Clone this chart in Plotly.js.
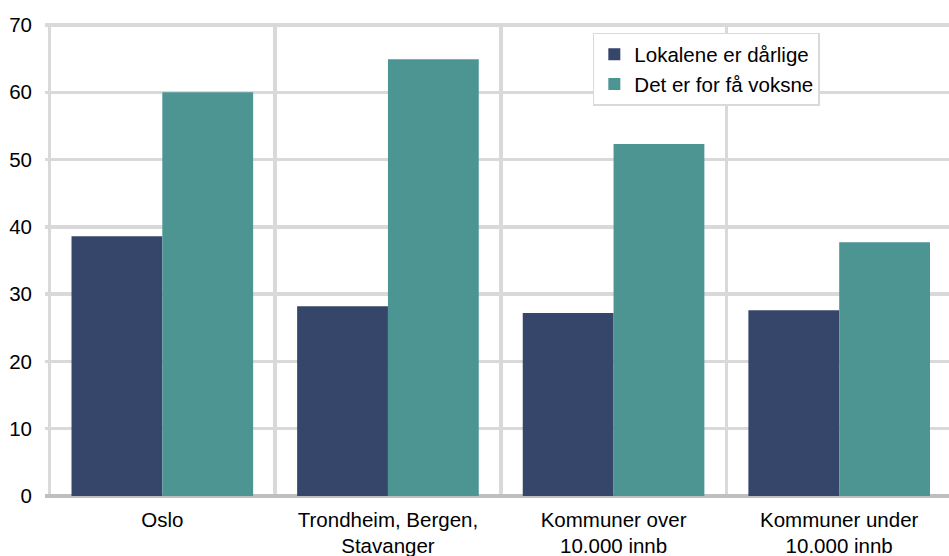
<!DOCTYPE html>
<html><head><meta charset="utf-8">
<script src="https://cdn.plot.ly/plotly-3.0.1.min.js"></script>
<style>html,body{margin:0;padding:0;overflow:hidden;background:#fff}</style>
</head><body>
<div id="chart" style="width:952px;height:556px"></div>
<script>
const categories = ["Oslo", "Trondheim, Bergen,<br>Stavanger", "Kommuner over<br>10.000 innb", "Kommuner under<br>10.000 innb"];
const seriesNames = ["Lokalene er dårlige", "Det er for få voksne"];
const lokaler = [38.6, 28.2, 27.2, 27.6];
const voksne = [60.0, 64.9, 52.3, 37.7];
const yTicks = [0, 10, 20, 30, 40, 50, 60, 70];

const traces = [
  {type: "bar", name: seriesNames[0], x: categories, y: lokaler, marker: {color: "#36466a"}},
  {type: "bar", name: seriesNames[1], x: categories, y: voksne, marker: {color: "#4c9593"}}
];
const layout = {
  width: 952, height: 556,
  margin: {l: 45, r: 0, t: 23, b: 60},
  barmode: "group", bargap: 0.195, bargroupgap: 0,
  paper_bgcolor: "#fff", plot_bgcolor: "#fff",
  font: {family: "Liberation Sans, Arial, sans-serif", size: 21, color: "#000"},
  xaxis: {type: "category", tickson: "boundaries", showgrid: true, gridcolor: "#d9d9d9", gridwidth: 3.5,
          ticks: "", showline: false, tickfont: {size: 20.5}, range: [-0.52, 3.5], ticklabelstandoff: 9},
  yaxis: {range: [0, 70.3], tickvals: yTicks, showgrid: true, gridcolor: "#d9d9d9", gridwidth: 3.5,
          zeroline: true, zerolinecolor: "#bfbfbf", zerolinewidth: 4, ticks: "", ticklen: 0,
          tickfont: {size: 20.5}, showline: false, ticklabelstandoff: 12},
  legend: {x: 0.604, y: 0.979, xanchor: "left", yanchor: "top", bgcolor: "#fff",
           bordercolor: "#d9d9d9", borderwidth: 1.5, font: {size: 20.5},
           itemwidth: 30, tracegroupgap: 0},
  showlegend: true
};
Plotly.newPlot("chart", traces, layout, {displayModeBar: false, staticPlot: true});
</script>
</body></html>
